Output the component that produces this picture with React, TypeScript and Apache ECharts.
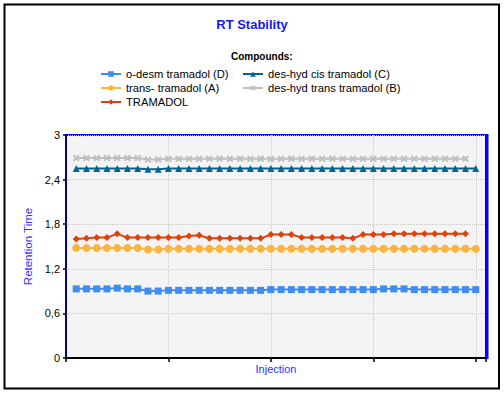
import React, { useEffect, useRef } from "react";
import * as echarts from "echarts";

const injections = [1, 2, 3, 4, 5, 6, 7, 8, 9, 10, 11, 12, 13, 14, 15, 16, 17, 18, 19, 20, 21, 22, 23, 24, 25, 26, 27, 28, 29, 30, 31, 32, 33, 34, 35, 36, 37, 38, 39, 40];

const oDesmD = [0.93, 0.93, 0.93, 0.93, 0.94, 0.93, 0.93, 0.9, 0.9, 0.91, 0.91, 0.91, 0.91, 0.91, 0.91, 0.91, 0.91, 0.91, 0.91, 0.92, 0.92, 0.92, 0.92, 0.92, 0.92, 0.92, 0.92, 0.92, 0.92, 0.92, 0.93, 0.93, 0.93, 0.92, 0.92, 0.92, 0.92, 0.92, 0.92, 0.92];
const transA = [1.48, 1.48, 1.48, 1.48, 1.48, 1.48, 1.48, 1.46, 1.46, 1.47, 1.47, 1.47, 1.47, 1.47, 1.47, 1.47, 1.47, 1.47, 1.47, 1.47, 1.47, 1.47, 1.47, 1.47, 1.47, 1.47, 1.47, 1.47, 1.47, 1.47, 1.47, 1.47, 1.47, 1.47, 1.47, 1.47, 1.47, 1.47, 1.47, 1.47];
const tramadol = [1.6, 1.61, 1.62, 1.62, 1.67, 1.62, 1.62, 1.62, 1.62, 1.62, 1.62, 1.64, 1.65, 1.61, 1.61, 1.61, 1.61, 1.61, 1.61, 1.66, 1.66, 1.66, 1.62, 1.62, 1.62, 1.62, 1.62, 1.61, 1.66, 1.66, 1.66, 1.67, 1.67, 1.67, 1.67, 1.67, 1.67, 1.67, 1.67];
const cisC = [2.55, 2.55, 2.55, 2.55, 2.55, 2.55, 2.55, 2.54, 2.54, 2.55, 2.55, 2.55, 2.55, 2.55, 2.55, 2.55, 2.55, 2.55, 2.55, 2.55, 2.55, 2.55, 2.55, 2.55, 2.55, 2.55, 2.55, 2.55, 2.55, 2.55, 2.55, 2.55, 2.55, 2.55, 2.55, 2.55, 2.55, 2.55, 2.55, 2.55];
const transB = [2.69, 2.69, 2.69, 2.69, 2.69, 2.69, 2.69, 2.67, 2.67, 2.68, 2.68, 2.68, 2.68, 2.68, 2.68, 2.68, 2.68, 2.68, 2.68, 2.68, 2.68, 2.68, 2.68, 2.68, 2.68, 2.68, 2.68, 2.68, 2.68, 2.68, 2.68, 2.68, 2.68, 2.68, 2.68, 2.68, 2.68, 2.68, 2.68];

const seriesNames = ["o-desm tramadol (D)", "trans- tramadol (A)", "TRAMADOL", "des-hyd cis tramadol (C)", "des-hyd trans tramadol (B)"];
const seriesColors = ["#418CF0", "#FCB441", "#E0400A", "#056492", "#BFBFBF"];
const yTicks = [0, 0.6, 1.2, 1.8, 2.4, 3];

const FONT = "Liberation Sans";
const crossPath = "path://M0,2 L2,0 L5,3 L8,0 L10,2 L7,5 L10,8 L8,10 L5,7 L2,10 L0,8 L3,5 Z";

function pairs(vals: number[]) {
  return vals.map((v, i) => [injections[i], v]);
}

export default function App() {
  const ref = useRef<HTMLDivElement>(null);
  useEffect(() => {
    if (!ref.current) return;
    const chart = echarts.init(ref.current, null, { renderer: "svg" });
    const allVals = [oDesmD, transA, tramadol, cisC, transB];
    const symbols = ["rect", "circle", "diamond", "triangle", crossPath];
    const sizes = [7, 8, 7, 7, 7];
    const legendText = { fontFamily: FONT, fontSize: 11.2, color: "#000", lineHeight: 14 };
    chart.setOption({
      animation: false,
      backgroundColor: "#fff",
      textStyle: { fontFamily: FONT },
      title: [
        { text: "RT Stability", left: "center", top: 13, textStyle: { color: "#1515FF", fontSize: 13, fontWeight: "bold", fontFamily: FONT } },
        { text: "Compounds:", left: 226, top: 46, textStyle: { color: "#000", fontSize: 10, fontWeight: "bold", fontFamily: FONT } },
      ],
      legend: [
        { left: 95, top: 62, orient: "vertical", data: [seriesNames[0], seriesNames[1], seriesNames[2]], itemWidth: 20, itemHeight: 7, itemGap: 0, textStyle: legendText },
        { left: 237, top: 62, orient: "vertical", data: [seriesNames[3], seriesNames[4]], itemWidth: 20, itemHeight: 7, itemGap: 0, textStyle: legendText },
      ],
      grid: { left: 66, right: 18, top: 135, bottom: 37, show: true, backgroundColor: "#F4F4F4", borderColor: "#0000FF", borderWidth: 2 },
      xAxis: {
        type: "value",
        min: 0,
        max: 41,
        interval: 10,
        name: "Injection",
        nameLocation: "middle",
        nameGap: 5,
        nameTextStyle: { color: "#3030FF", fontSize: 11, fontFamily: FONT, verticalAlign: "top" },
        axisLine: { show: true, lineStyle: { color: "#000", width: 2 } },
        axisTick: { show: true, length: 4, lineStyle: { color: "#000", width: 1.5 } },
        axisLabel: { show: false },
        splitLine: { show: true, lineStyle: { color: "#C8C8C8", type: "dotted", width: 1 } },
      },
      yAxis: {
        type: "value",
        min: yTicks[0],
        max: yTicks[yTicks.length - 1],
        interval: 0.6,
        name: "Retention Time",
        nameLocation: "middle",
        nameGap: 32,
        nameTextStyle: { color: "#3030FF", fontSize: 11.5, fontFamily: FONT },
        axisLine: { show: true, lineStyle: { color: "#00008B", width: 2 } },
        axisTick: { show: true, length: 3, lineStyle: { color: "#000", width: 1.5 } },
        axisLabel: { color: "#000", fontSize: 11, fontFamily: FONT, margin: 6, formatter: (v: number) => String(Math.round(v * 10) / 10).replace(".", ",") },
        splitLine: { show: true, lineStyle: { color: "#C8C8C8", type: "dotted", width: 1 } },
      },
      series: seriesNames.map((name, i) => ({
        name,
        type: "line",
        data: pairs(allVals[i]),
        symbol: symbols[i],
        symbolSize: sizes[i],
        showAllSymbol: true,
        color: seriesColors[i],
        lineStyle: { width: 2, color: seriesColors[i] },
        itemStyle: { color: seriesColors[i] },
        z: 3,
      })),
      graphic: [
        { type: "rect", shape: { x: 4.5, y: 4.5, width: 494.5, height: 384 }, style: { fill: "none", stroke: "#000", lineWidth: 2 }, silent: true },
        { type: "line", shape: { x1: 487, y1: 134, x2: 487, y2: 359 }, style: { stroke: "#0000FF", lineWidth: 3 }, silent: true, z: 10 },
      ],
    });
    return () => chart.dispose();
  }, []);
  return <div ref={ref} style={{ position: "absolute", left: 0, top: 0, width: 504, height: 395 }} />;
}
